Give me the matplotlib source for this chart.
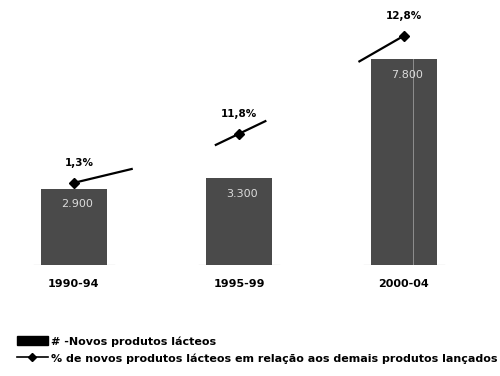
import matplotlib.pyplot as plt
from matplotlib.patches import Patch
import numpy as np

plt.rcParams['font.family'] = ['DejaVu Sans']

periods = ["1990-94", "1995-99", "2000-04"]
novos_lacteos = [2900, 3300, 7800]
bar_labels = ["2.900", "3.300", "7.800"]
pct_labels = ["1,3%", "11,8%", "12,8%"]
# heights of the % markers, read in bar units (the original has no visible 2nd axis)
pct_heights = [3120, 4980, 8700]

BAR_COLOR = "#4a4a4a"


def main():
    fig = plt.figure(figsize=(5, 3.76), dpi=100)
    ax = fig.add_axes([0, 0.295, 1, 0.652])
    x = np.arange(len(periods))

    ax.bar(x, novos_lacteos, width=0.4, color=BAR_COLOR, zorder=2)
    # faint baseline under each bar
    for xi in x:
        ax.plot([xi - 0.24, xi + 0.24], [0, 0], color="#dddddd", lw=1, zorder=1)
    # thin light seam in the last bar, as in the scan
    ax.plot([x[2] + 0.055, x[2] + 0.055], [0, novos_lacteos[2]], color="#9a9a9a", lw=0.6, zorder=3)

    for xi, v, lab in zip(x, novos_lacteos, bar_labels):
        ax.text(xi + 0.02, v - 600, lab, ha="center", va="center", color="#dcdcdc",
                fontsize=8, zorder=4)

    # broken line: a short piece through each marker
    pieces = [(0.0, 0.35, 0.25), (-0.14, 0.16, 0.5), (-0.27, 0.0, 0.6)]
    for xi, h, (lo, hi, slope) in zip(x, pct_heights, pieces):
        xs = np.array([xi + lo, xi + hi])
        ys = h + (xs - xi) * slope * 6000
        ax.plot(xs, ys, color="black", lw=1.6, zorder=5)
    ax.plot(x, pct_heights, linestyle="none", marker="D", markersize=5, color="black", zorder=6)

    for xi, h, lab in zip(x, pct_heights, pct_labels):
        ax.text(xi + (0.03 if xi == 0 else 0), h + 750, lab, ha="center", va="center",
                fontsize=7.5, fontweight="bold", zorder=6)

    ax.set_xlim(-0.448, 2.582)
    ax.set_ylim(0, 9300)
    ax.set_xticks(x)
    ax.set_xticklabels(periods, fontsize=8, fontweight="bold")
    ax.tick_params(axis="x", length=0, pad=10)
    ax.set_yticks([])
    for s in ax.spines.values():
        s.set_visible(False)

    legend_bar = Patch(facecolor="black", edgecolor="black")
    legend_line = plt.Line2D([], [], color="black", marker="D", markersize=4, lw=1.2)
    fig.legend([legend_bar, legend_line],
               ["# -Novos produtos lácteos",
                "% de novos produtos lácteos em relação aos demais produtos lançados"],
               loc="lower left", bbox_to_anchor=(0.018, 0.012), frameon=False,
               prop={"size": 8, "weight": "bold"}, handlelength=2.8, handleheight=0.9,
               handletextpad=0.3, labelspacing=0.6, borderaxespad=0.3)

    fig.savefig("out.png", dpi=100)


if __name__ == "__main__":
    main()
